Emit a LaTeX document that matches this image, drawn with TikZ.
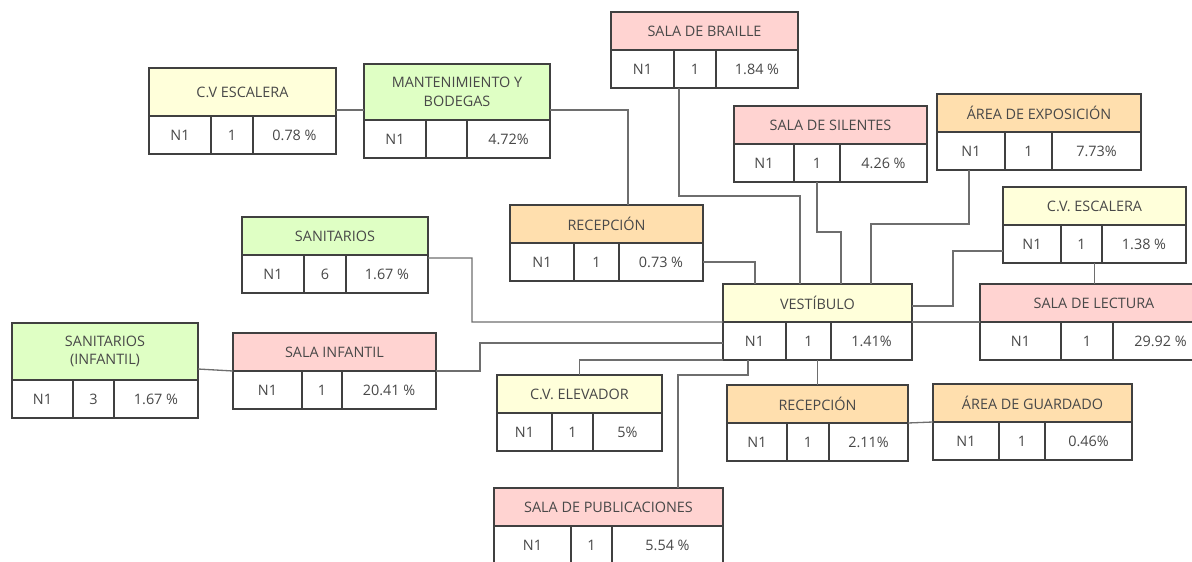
\documentclass[tikz,border=0pt]{standalone}
\usepackage{fontspec}
\setmainfont{Open Sans}
\usepackage{xcolor}
\usepackage{tikz}
\definecolor{eamarillo}{HTML}{FFFFDA}
\definecolor{everde}{HTML}{DFFFC4}
\definecolor{erosa}{HTML}{FFD3D1}
\definecolor{enaranja}{HTML}{FFDFAE}
\definecolor{eborde}{HTML}{404040}
\definecolor{elinea}{HTML}{6E6E6E}
\definecolor{etexto}{HTML}{484848}
\tikzset{
  ecab/.style={draw=eborde,line width=0.6pt,rectangle,inner sep=0pt,outer sep=0pt,minimum height=0.76cm,
    anchor=north west,align=center,text=etexto,font=\fontsize{8.2}{10.6}\selectfont},
  ecelda/.style={draw=eborde,line width=0.6pt,rectangle,inner sep=0pt,outer sep=0pt,minimum height=0.76cm,
    fill=white,text=etexto,font=\fontsize{8.2}{10.6}\selectfont},
  econ/.style={draw=elinea,line width=0.75pt}}
\newcommand{\ecab}[6][0.76cm]{%
  \node[ecab,fill=#4,minimum width=#5*0.02cm,minimum height=#1] (#2) at (#3) {#6};}
\newcommand{\efila}[6]{%
  \node[ecelda,minimum width=#2*0.02cm,anchor=north west] (#1-1) at (#1.south west) {N1};
  \node[ecelda,minimum width=#3*0.02cm,anchor=west] (#1-2) at (#1-1.east) {#5};
  \node[ecelda,minimum width=#4*0.02cm,anchor=west] (#1-3) at (#1-2.east) {#6};}
\begin{document}
\begin{tikzpicture}[x=0.02cm,y=-0.02cm]
    \useasboundingbox (0,0) rectangle (1192,561);
    \clip (0,0) rectangle (1192,561);
    \ecab[0.96cm]{cvesca}{149,68}{eamarillo}{187}{C.V ESCALERA} \efila{cvesca}{62}{42}{83}{1}{0.78 \%}
    \ecab[1.12cm]{mant}{364,64}{everde}{186}{MANTENIMIENTO Y\\BODEGAS} \efila{mant}{62}{41}{83}{}{4.72\%}
    \ecab{braille}{611,12}{erosa}{187}{SALA DE BRAILLE} \efila{braille}{63}{42}{82}{1}{1.84 \%}
    \ecab{silentes}{734,106}{erosa}{193}{SALA DE SILENTES} \efila{silentes}{60}{46}{87}{1}{4.26 \%}
    \ecab{expo}{937,94}{enaranja}{204}{ÁREA DE EXPOSICIÓN} \efila{expo}{68}{47}{89}{1}{7.73\%}
    \ecab{cvescb}{1003,187}{eamarillo}{183}{C.V. ESCALERA} \efila{cvescb}{58}{41}{84}{1}{1.38 \%}
    \ecab{lectura}{980,284}{erosa}{228}{SALA DE LECTURA} \efila{lectura}{81}{52}{95}{1}{29.92 \%}
    \ecab{vestibulo}{723,284}{eamarillo}{189}{VESTÍBULO} \efila{vestibulo}{63}{45}{81}{1}{1.41\%}
    \ecab{recepa}{510,205}{enaranja}{193}{RECEPCIÓN} \efila{recepa}{64}{45}{84}{1}{0.73 \%}
    \ecab{sanit}{242,217}{everde}{186}{SANITARIOS} \efila{sanit}{62}{42}{82}{6}{1.67 \%}
    \ecab[1.14cm]{saninf}{12,323}{everde}{186}{SANITARIOS\\(INFANTIL)} \efila{saninf}{61}{41}{84}{3}{1.67 \%}
    \ecab{infantil}{233,333}{erosa}{203}{SALA INFANTIL} \efila{infantil}{69}{40}{94}{1}{20.41 \%}
    \ecab{elevador}{497,375}{eamarillo}{165}{C.V. ELEVADOR} \efila{elevador}{55}{41}{69}{1}{5\%}
    \ecab{recepb}{727,385}{enaranja}{181}{RECEPCIÓN} \efila{recepb}{60}{42}{79}{1}{2.11\%}
    \ecab{guardado}{933,384}{enaranja}{199}{ÁREA DE GUARDADO} \efila{guardado}{66}{46}{87}{1}{0.46\%}
    \ecab{public}{494,488}{erosa}{229}{SALA DE PUBLICACIONES} \efila{public}{77}{41}{111}{1}{5.54 \%}
    \draw[econ] (cvesca.east |- 0,110) -- (mant.west |- 0,110);
    \draw[econ] (mant.east |- 0,110) -| (recepa.north -| 628,0);
    \draw[econ] (recepa-3.east) -| (vestibulo.north -| 755,0);
    \draw[econ] (braille-2.south -| 679,0) |- (800,196) -- (vestibulo.north -| 800,0);
    \draw[econ] (silentes-2.south) |- (841,232) -- (vestibulo.north -| 841,0);
    \draw[econ] (expo-1.south -| 969,0) |- (871,224) -- (vestibulo.north -| 871,0);
    \draw[econ] (cvescb-1.west |- 0,251) -| (953,306) -- (vestibulo.east |- 0,306);
    \draw[econ] (cvescb-2.south -| cvescb.south) -- (lectura.north -| cvescb.south);
    \draw[econ] (vestibulo.south east) -- (lectura.south west);
    \draw[econ] (sanit.south east |- 0,258) -| (472,322) -- (vestibulo.south west);
    \draw[econ] (infantil.south east) -| (480,343) -- (vestibulo-1.west |- 0,343);
    \draw[econ] (saninf.east |- 0,369) -- (infantil.south west);
    \draw[econ] (elevador.north) |- (vestibulo-1.south west);
    \draw[econ] (public.north -| 678,0) |- (748,375) -- (vestibulo-1.south -| 748,0);
    \draw[econ] (recepb.north |- vestibulo-2.south) -- (recepb.north);
    \draw[econ] (recepb.south east) -- (guardado.south west);
\end{tikzpicture}
\end{document}
